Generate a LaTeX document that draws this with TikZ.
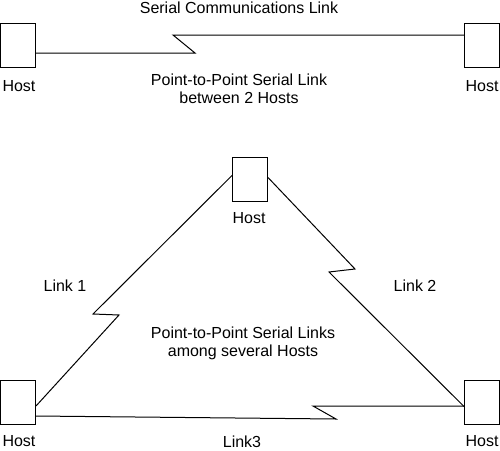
\documentclass[tikz,border=0pt]{standalone}
\usepackage{fontspec}
\setmainfont{Liberation Sans}
\usetikzlibrary{positioning}

\tikzset{
  hostbox/.style={draw, line width=1pt, minimum width=35pt, minimum height=44pt, inner sep=0pt},
  link/.style={line width=1pt},
  lbl/.style={inner sep=0pt, font=\fontsize{16}{18}\selectfont, align=center}
}

\begin{document}
\begin{tikzpicture}[x=1pt,y=-1pt]
\useasboundingbox (0,0) rectangle (500,450);

% 2 hosts:
\node[hostbox] (hostA) at (18,45) {};
\node[hostbox] (hostB) at (482,45) {};
\node[lbl] (hostAl) at (19,86) {Host};
\node[lbl] (hostBl) at (482,86) {Host};

\node[lbl] (toptxt) at (239,8) {Serial Communications Link};
\node[lbl] (midtxt) at (239,89) {Point-to-Point Serial Link\\between 2 Hosts};

\coordinate (z1) at (195,53);
\coordinate (z2) at (173,35);
\draw[link] (hostA.east |- z1) -- (z1) -- (z2) -- (hostB.west |- z2);


% triangle of hosts:
\node[hostbox] (hostT) at (250,179.5) {};
\node[hostbox] (hostL) at (18,402) {};
\node[hostbox] (hostR) at (482,402.5) {};
\node[lbl] (hostTl) at (249,218) {Host};
\node[lbl] (hostLl) at (19,441.5) {Host};
\node[lbl] (hostRl) at (482,441.5) {Host};

\node[lbl] (lnkA) at (65,286) {Link 1};
\node[lbl] (lnkB) at (415,286) {Link 2};
\node[lbl] (lnkC) at (242,441.5) {Link3};
\node[lbl] (bottxt) at (243,343) {Point-to-Point Serial Links\\among several Hosts};

% link 1
\coordinate (a1) at (93,314);
\coordinate (a2) at (119,315);
\draw[link] ([yshift=4pt]hostT.west) -- (a1) -- (a2) -- ([yshift=-4pt]hostL.east);

% link 2
\coordinate (b1) at (355,269);
\coordinate (b2) at (329,272);
\draw[link] ([yshift=2pt]hostT.east) -- (b1) -- (b2) -- ([yshift=-4pt]hostR.west);

% link 3
\coordinate (c1) at (336,419);
\coordinate (c2) at (313,406);
\draw[link] ([yshift=-14pt]hostL.east) -- (c1) -- (c2) -- (hostR.west |- c2);

\end{tikzpicture}
\end{document}
